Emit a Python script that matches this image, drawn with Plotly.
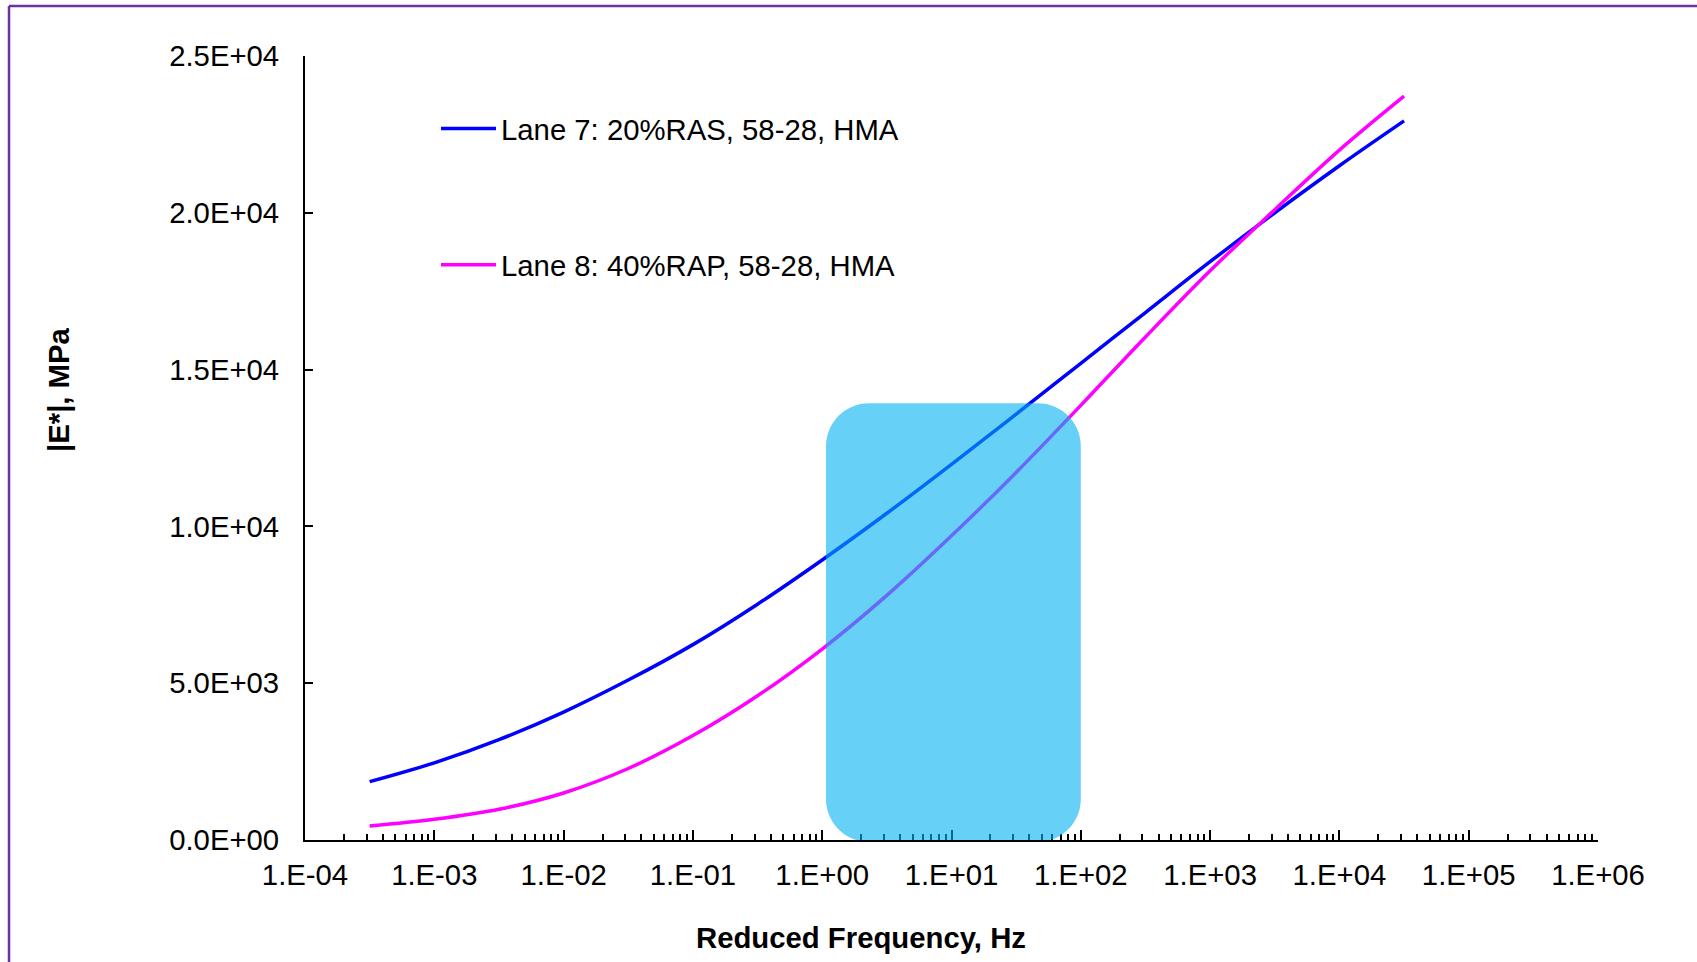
import math
import plotly.graph_objects as go

# ---- data ----
freq_hz = [3.162e-4, 1e-3, 3.162e-3, 1e-2, 3.162e-2, 1e-1, 3.162e-1, 1.0, 3.162,
           10.0, 31.62, 100.0, 316.2, 1000.0, 3162.0, 10000.0, 31620.0]
lane7_mpa = [1860, 2460, 3200, 4080, 5100, 6230, 7520, 8930, 10420,
             11980, 13580, 15200, 16820, 18440, 20000, 21500, 22930]
lane8_mpa = [446, 660, 980, 1500, 2280, 3330, 4600, 6090, 7800,
             9700, 11720, 13860, 16040, 18150, 20100, 22000, 23720]
series_names = ["Lane 7: 20%RAS, 58-28, HMA", "Lane 8: 40%RAP, 58-28, HMA"]
series_colors = ["#0000FF", "#FF00FF"]

x_tickvals = [1e-4, 1e-3, 1e-2, 1e-1, 1e0, 1e1, 1e2, 1e3, 1e4, 1e5, 1e6]
x_ticktext = ["1.E-04", "1.E-03", "1.E-02", "1.E-01", "1.E+00", "1.E+01",
              "1.E+02", "1.E+03", "1.E+04", "1.E+05", "1.E+06"]
y_tickvals = [0, 5000, 10000, 15000, 20000, 25000]
y_ticktext = ["0.0E+00", "5.0E+03", "1.0E+04", "1.5E+04", "2.0E+04", "2.5E+04"]

highlight_freq = [1.07, 100.0]      # Hz range of the shaded box
highlight_mod = [-60, 13930]        # MPa range of the shaded box

# ---- layout geometry (screen pixels; body margin removed by post_script) ----
W, H = 1697, 962
PLOT_L, PLOT_R, PLOT_T, PLOT_B = 305, 1598, 56, 840
ML, MT = PLOT_L, PLOT_T
MR, MB = W - PLOT_R, H - PLOT_B
PW, PH = PLOT_R - PLOT_L, PLOT_B - PLOT_T
FONT = "Liberation Sans, Arial, sans-serif"
FS = 29.3

def px2paper_x(px):
    return (px - PLOT_L) / PW

def px2paper_y(py):
    return (PLOT_B - py) / PH

fig = go.Figure()
for name, vals, col, grp in [(series_names[0], lane7_mpa, series_colors[0], "a"),
                             (series_names[1], lane8_mpa, series_colors[1], "b")]:
    fig.add_trace(go.Scatter(x=freq_hz, y=vals, mode="lines", name=name,
                             legendgroup=grp,
                             line=dict(color=col, width=3.5, shape="spline", smoothing=1.0)))

# invisible helper trace on a linear overlay axis (log10 units) for the rounded box
fig.add_trace(go.Scatter(x=[None], y=[None], xaxis="x2", yaxis="y",
                         showlegend=False, hoverinfo="skip"))

minor_vals = [k * 10 ** e for e in range(-4, 6) for k in range(2, 10)]

fig.update_layout(
    width=W, height=H,
    margin=dict(l=ML, r=MR, t=MT, b=MB),
    paper_bgcolor="white", plot_bgcolor="white",
    font=dict(family=FONT, size=FS, color="black"),
    showlegend=True,
    legend=dict(x=px2paper_x(436), y=px2paper_y(103), xanchor="left", yanchor="top",
                bgcolor="rgba(0,0,0,0)", font=dict(size=FS),
                tracegroupgap=95, itemwidth=55),
    xaxis=dict(type="log", range=[-4, 6], tickmode="array",
               tickvals=x_tickvals, ticktext=x_ticktext,
               ticks="inside", ticklen=10, tickwidth=1.5, tickcolor="black",
               showline=True, linecolor="black", linewidth=2,
               showgrid=False, zeroline=False, ticklabelstandoff=8,
               minor=dict(tickmode="array", tickvals=minor_vals, ticks="inside",
                          ticklen=6, tickwidth=1.5, tickcolor="black", showgrid=False)),
    xaxis2=dict(type="linear", range=[-4, 6], overlaying="x", visible=False,
                showgrid=False, zeroline=False),
    yaxis=dict(range=[0, 25000], tickmode="array", tickvals=y_tickvals, ticktext=y_ticktext,
               ticks="inside", ticklen=8, tickwidth=1.5, tickcolor="black",
               showline=True, linecolor="black", linewidth=2,
               showgrid=False, zeroline=False, ticklabelstandoff=18),
)

# rounded highlight box (log10 frequency on linear overlay axis)
x0, x1 = math.log10(highlight_freq[0]), math.log10(highlight_freq[1])
y0, y1 = highlight_mod
rx = 43 / (PW / 10.0)          # corner radius in decades
ry = 43 / (PH / 25000.0)       # corner radius in MPa
k = 0.5523
path = (f"M {x0+rx},{y0} L {x1-rx},{y0} "
        f"C {x1-rx+k*rx},{y0} {x1},{y0+ry-k*ry} {x1},{y0+ry} "
        f"L {x1},{y1-ry} "
        f"C {x1},{y1-ry+k*ry} {x1-rx+k*rx},{y1} {x1-rx},{y1} "
        f"L {x0+rx},{y1} "
        f"C {x0+rx-k*rx},{y1} {x0},{y1-ry+k*ry} {x0},{y1-ry} "
        f"L {x0},{y0+ry} "
        f"C {x0},{y0+ry-k*ry} {x0+rx-k*rx},{y0} {x0+rx},{y0} Z")
fig.add_shape(type="path", path=path, xref="x2", yref="y",
              fillcolor="#00B0F0", opacity=0.6, line=dict(width=0), layer="above")

# outer purple frame
fig.add_shape(type="line", xref="paper", yref="paper",
              x0=px2paper_x(9), y0=px2paper_y(6), x1=px2paper_x(1710), y1=px2paper_y(6),
              line=dict(color="#7030A0", width=2.5))
fig.add_shape(type="line", xref="paper", yref="paper",
              x0=px2paper_x(9), y0=px2paper_y(6), x1=px2paper_x(9), y1=px2paper_y(980),
              line=dict(color="#7030A0", width=2.5))

# axis titles
fig.add_annotation(text="<b>Reduced Frequency, Hz</b>", xref="paper", yref="paper",
                   x=px2paper_x(861), y=px2paper_y(937), showarrow=False,
                   xanchor="center", yanchor="middle", font=dict(size=FS))
fig.add_annotation(text="<b>|E*|, MPa</b>", xref="paper", yref="paper",
                   x=px2paper_x(59), y=px2paper_y(390), showarrow=False, textangle=-90,
                   xanchor="center", yanchor="middle", font=dict(size=FS))

fig.write_html("out.html",
               config={"displayModeBar": False},
               post_script="document.body.style.margin='0px';"
                           "document.body.style.overflow='hidden';")
